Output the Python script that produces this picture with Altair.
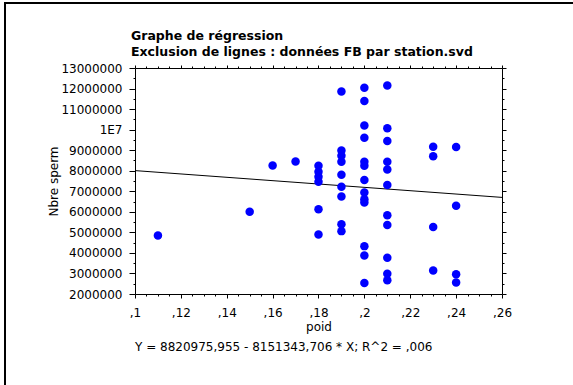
import altair as alt
import pandas as pd

# ---------------- data ----------------
poid = [0.11, 0.15, 0.16, 0.17,
        0.18, 0.18, 0.18, 0.18, 0.18, 0.18,
        0.19, 0.19, 0.19, 0.19, 0.19, 0.19, 0.19, 0.19, 0.19,
        0.20, 0.20, 0.20, 0.20, 0.20, 0.20, 0.20, 0.20, 0.20, 0.20, 0.20, 0.20, 0.20,
        0.21, 0.21, 0.21, 0.21, 0.21, 0.21, 0.21, 0.21, 0.21, 0.21, 0.21,
        0.23, 0.23, 0.23, 0.23,
        0.24, 0.24, 0.24, 0.24]
sperm = [4850000, 6000000, 8250000, 8450000,
         8240000, 7950000, 7710000, 7460000, 6120000, 4900000,
         11860000, 8980000, 8730000, 8440000, 7800000, 7220000, 6740000, 5390000, 5060000,
         12040000, 11390000, 10200000, 9610000, 8440000, 8240000, 7550000, 6940000, 6610000, 6450000, 4330000, 3870000, 2540000,
         12150000, 10070000, 9450000, 8440000, 8060000, 7310000, 5830000, 5360000, 3760000, 2980000, 2670000,
         9170000, 8700000, 5260000, 3140000,
         9160000, 6290000, 2960000, 2560000]

reg_intercept = 8820975.955
reg_slope = -8151343.706
line_x = [0.10, 0.26]

title_lines = ["Graphe de régression",
               "Exclusion de lignes : données FB par station.svd"]
equation = ["Y = 8820975,955 - 8151343,706 * X; R^2 = ,006"]
x_title = "poid"
y_title = "Nbre sperm"

x_domain = [0.10, 0.26]
y_domain = [2000000, 13000000]
x_ticks = [round(0.10 + 0.005 * i, 3) for i in range(33)]
y_ticks = [2000000 + 500000 * i for i in range(23)]

# ---------------- frames ----------------
df = pd.DataFrame({"poid": poid, "sperm": sperm})
line_df = pd.DataFrame({"x": line_x,
                        "y": [reg_intercept + reg_slope * v for v in line_x]})
title_df = pd.DataFrame({"t": ["\n".join(title_lines)]})
eq_df = pd.DataFrame({"t": equation})
one = pd.DataFrame({"a": [0]})

W, H = 367, 226
PL, PT = 135, 68
PR, PB = 573 - PL - W, 385 - PT - H
FONT = "DejaVu Sans"

MAJX = "abs(datum.value*50 - round(datum.value*50)) < 0.001"
MAJY = "datum.value % 1000000 === 0"

xs = alt.Scale(domain=x_domain, nice=False, zero=False)
ys = alt.Scale(domain=y_domain, nice=False, zero=False)

x_bottom = alt.Axis(
    values=x_ticks, grid=False,
    labelExpr=f"({MAJX}) ? replace(format(datum.value, '.2~f'), '0.', ',') : ''",
    tickSize={"condition": {"test": MAJX, "value": 4}, "value": 2},
    labelPadding=9, labelFlush=False, labelOverlap=False,
    title=x_title, titleY=36, titleBaseline="alphabetic",
)
y_left = alt.Axis(
    values=y_ticks, grid=False,
    labelExpr=f"({MAJY}) ? (datum.value === 10000000 ? '1E7' : format(datum.value, 'd')) : ''",
    tickSize={"condition": {"test": MAJY, "value": 6}, "value": 2},
    labelPadding=7, labelFlush=False, labelOverlap=False,
    title=y_title, titleAngle=270, titleX=-78, titleY=113,
    titleAlign="center", titleBaseline="alphabetic",
)
x_top = alt.Axis(orient="top", values=x_ticks, labels=False, grid=False, title=None,
                 tickSize={"condition": {"test": MAJX, "value": 3}, "value": 2})
y_right = alt.Axis(orient="right", values=y_ticks, labels=False, grid=False, title=None,
                   tickSize={"condition": {"test": MAJY, "value": 4}, "value": 2})

frame_left = alt.Chart(one).mark_rule(color="black", strokeWidth=2).encode(
    x=alt.value(-130), y=alt.value(-65), y2=alt.value(330))
frame_top = alt.Chart(one).mark_rule(color="black", strokeWidth=2).encode(
    x=alt.value(-131), x2=alt.value(450), y=alt.value(-65))

title_txt = alt.Chart(title_df).mark_text(
    align="left", baseline="alphabetic", font=FONT, fontWeight="bold",
    fontSize=12.5, lineBreak="\n", lineHeight=16, color="black").encode(
    x=alt.value(-4), y=alt.value(-28), text="t:N")

eq_txt = alt.Chart(eq_df).mark_text(
    align="left", baseline="alphabetic", font=FONT, fontSize=12,
    color="black").encode(x=alt.value(0), y=alt.value(283), text="t:N")

reg_line = alt.Chart(line_df).mark_line(color="black", strokeWidth=1).encode(
    x=alt.X("x:Q", scale=xs, axis=x_bottom),
    y=alt.Y("y:Q", scale=ys, axis=y_left))

points = alt.Chart(df).mark_circle(size=72, color="#0000FF", opacity=1).encode(
    x=alt.X("poid:Q", scale=xs, axis=x_bottom),
    y=alt.Y("sperm:Q", scale=ys, axis=y_left))

ghost = alt.Chart(df).mark_circle(opacity=0).encode(
    x=alt.X("poid:Q", scale=xs, axis=x_top),
    y=alt.Y("sperm:Q", scale=ys, axis=y_right))

inner = alt.layer(frame_left, frame_top, title_txt, eq_txt, reg_line, points)

chart = alt.layer(inner, ghost).resolve_scale(
    x="independent", y="independent"
).properties(
    width=W, height=H,
    padding={"left": PL, "top": PT, "right": PR, "bottom": PB},
    autosize=alt.AutoSizeParams(type="none"),
    background="white",
).configure_view(stroke=None).configure_axis(
    domainColor="black", domainWidth=1, tickColor="black", tickWidth=1,
    labelColor="black", labelFont=FONT, labelFontSize=12,
    titleColor="black", titleFont=FONT, titleFontSize=12, titleFontWeight="normal",
)

chart.save("out.html", embed_options={"renderer": "svg", "actions": False})
